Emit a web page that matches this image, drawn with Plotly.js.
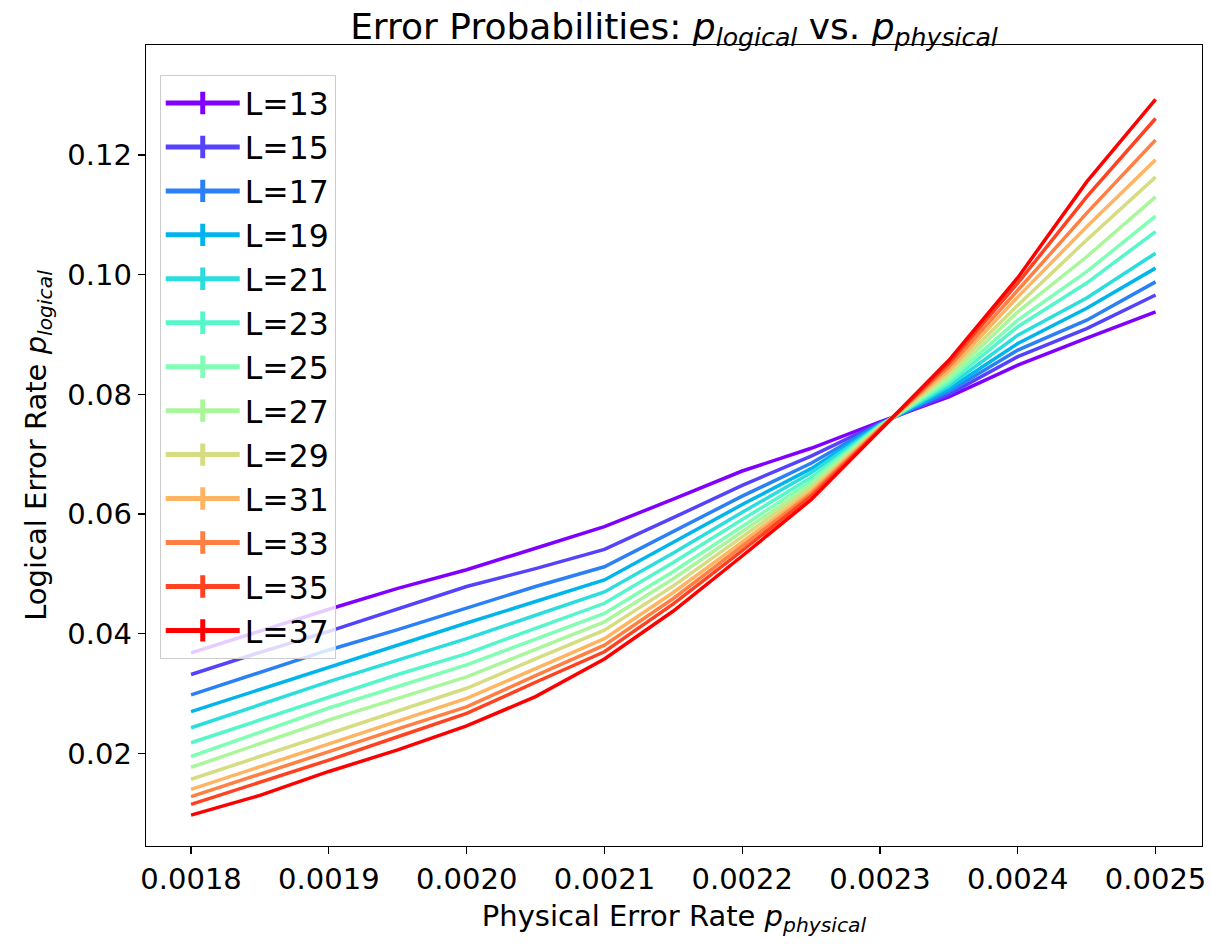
<!DOCTYPE html>
<html>
<head>
<meta charset="utf-8">
<script src="https://cdn.plot.ly/plotly-3.0.1.min.js"></script>
<style>html,body{margin:0;padding:0;background:#fff;}#chart{width:1212px;height:945px;}</style>
</head>
<body>
<div id="chart"></div>
<script>
// Physical error rate values (x axis)
const pPhysical = [0.0018, 0.00185, 0.0019, 0.00195, 0.0020, 0.00205, 0.0021, 0.00215, 0.0022, 0.00225, 0.0023, 0.00235, 0.0024, 0.00245, 0.0025];

// Series labels
const sizes = ["L=13", "L=15", "L=17", "L=19", "L=21", "L=23", "L=25", "L=27", "L=29", "L=31", "L=33", "L=35", "L=37"];

// Logical error rate per system size
const L13 = [0.0368, 0.0405, 0.0441, 0.0476, 0.0507, 0.0543, 0.0579, 0.0625, 0.0672, 0.0710, 0.0754, 0.0796, 0.0849, 0.0894, 0.0938];
const L15 = [0.0332, 0.0369, 0.0404, 0.0442, 0.0479, 0.0509, 0.0541, 0.0594, 0.0648, 0.0697, 0.0752, 0.0800, 0.0863, 0.0910, 0.0966];
const L17 = [0.0298, 0.0336, 0.0373, 0.0407, 0.0443, 0.0479, 0.0512, 0.0571, 0.0630, 0.0685, 0.0751, 0.0805, 0.0874, 0.0924, 0.0988];
const L19 = [0.0270, 0.0307, 0.0345, 0.0382, 0.0418, 0.0454, 0.0490, 0.0553, 0.0616, 0.0676, 0.0750, 0.0809, 0.0885, 0.0944, 0.1011];
const L21 = [0.0243, 0.0282, 0.0320, 0.0356, 0.0392, 0.0431, 0.0470, 0.0535, 0.0603, 0.0669, 0.0749, 0.0814, 0.0899, 0.0961, 0.1036];
const L23 = [0.0218, 0.0256, 0.0295, 0.0332, 0.0367, 0.0409, 0.0451, 0.0519, 0.0591, 0.0661, 0.0748, 0.0819, 0.0913, 0.0986, 0.1072];
const L25 = [0.0195, 0.0235, 0.0276, 0.0312, 0.0348, 0.0391, 0.0434, 0.0504, 0.0580, 0.0655, 0.0747, 0.0824, 0.0924, 0.1005, 0.1098];
const L27 = [0.0177, 0.0216, 0.0256, 0.0292, 0.0328, 0.0374, 0.0420, 0.0492, 0.0571, 0.0649, 0.0746, 0.0829, 0.0938, 0.1030, 0.1130];
const L29 = [0.0157, 0.0195, 0.0234, 0.0272, 0.0309, 0.0358, 0.0406, 0.0480, 0.0562, 0.0644, 0.0745, 0.0835, 0.0949, 0.1058, 0.1163];
const L31 = [0.0140, 0.0178, 0.0217, 0.0255, 0.0292, 0.0342, 0.0392, 0.0469, 0.0553, 0.0638, 0.0744, 0.0840, 0.0963, 0.1080, 0.1192];
const L33 = [0.0128, 0.0165, 0.0203, 0.0241, 0.0278, 0.0330, 0.0381, 0.0459, 0.0546, 0.0634, 0.0743, 0.0846, 0.0974, 0.1103, 0.1225];
const L35 = [0.0115, 0.0152, 0.0189, 0.0228, 0.0267, 0.0319, 0.0370, 0.0450, 0.0539, 0.0630, 0.0742, 0.0852, 0.0986, 0.1130, 0.1261];
const L37 = [0.0097, 0.0130, 0.0170, 0.0206, 0.0246, 0.0295, 0.0358, 0.0438, 0.0530, 0.0624, 0.0740, 0.0857, 0.0995, 0.1155, 0.1293];

const seriesValues = [L13, L15, L17, L19, L21, L23, L25, L27, L29, L31, L33, L35, L37];

// Tick labels
const xTickVals = [0.0018, 0.0019, 0.0020, 0.0021, 0.0022, 0.0023, 0.0024, 0.0025];
const xTickText = ["0.0018", "0.0019", "0.0020", "0.0021", "0.0022", "0.0023", "0.0024", "0.0025"];
const yTickVals = [0.02, 0.04, 0.06, 0.08, 0.10, 0.12];
const yTickText = ["0.02", "0.04", "0.06", "0.08", "0.10", "0.12"];

// matplotlib "rainbow" colours for 13 evenly spaced levels
const colors = ["#8000ff", "#5542fd", "#2b80f6", "#00b4ec", "#2bdddd", "#55f6ca", "#80ffb4", "#aaf69b", "#d5dd80", "#ffb462", "#ff8042", "#ff4221", "#ff0000"];

const FONT = "DejaVu Sans, Liberation Sans, sans-serif";
const traces = [];
seriesValues.forEach((vals, i) => {
  traces.push({
    type: "scatter", mode: "lines",
    x: pPhysical, y: vals,
    name: sizes[i],
    line: {color: colors[i], width: 3.5},
    showlegend: false,
    hoverinfo: "x+y+name"
  });
});
// legend-only entries with a "+" look
seriesValues.forEach((vals, i) => {
  traces.push({
    type: "scatter", mode: "lines+markers",
    x: [null], y: [null],
    name: sizes[i],
    legendgroup: "g" + i,
    line: {color: colors[i], width: 5},
    marker: {symbol: "line-ns-open", size: 16, color: colors[i], line: {color: colors[i], width: 5}},
    showlegend: true
  });
});

const layout = {
  width: 1212, height: 945,
  margin: {l: 146, r: 10, t: 45, b: 99},
  paper_bgcolor: "#fff", plot_bgcolor: "#fff",
  font: {family: FONT, size: 29, color: "#000"},
  title: {
    text: "Error Probabilities: <i>p</i><sub><i>logical</i></sub> vs. <i>p</i><sub><i>physical</i></sub>",
    font: {family: FONT, size: 36, color: "#000"},
    x: 0.5, xref: "paper", y: 1 - 26/945, yref: "container", yanchor: "middle"
  },
  xaxis: {
    range: [0.0017673, 0.0025337],
    tickvals: xTickVals, ticktext: xTickText,
    ticks: "outside", ticklen: 7, tickwidth: 1.3, tickcolor: "#000",
    showline: true, linecolor: "#000", linewidth: 1.3, mirror: true,
    showgrid: false, zeroline: false,
    tickfont: {family: FONT, size: 29, color: "#000"},
    title: {text: "Physical Error Rate <i>p</i><sub><i>physical</i></sub>", font: {family: FONT, size: 29, color: "#000"}, standoff: 10}
  },
  yaxis: {
    range: [0.004545, 0.13838],
    tickvals: yTickVals, ticktext: yTickText,
    ticks: "outside", ticklen: 7, tickwidth: 1.3, tickcolor: "#000",
    showline: true, linecolor: "#000", linewidth: 1.3, mirror: true,
    showgrid: false, zeroline: false,
    tickfont: {family: FONT, size: 29, color: "#000"},
    title: {text: "Logical Error Rate <i>p</i><sub><i>logical</i></sub>", font: {family: FONT, size: 29, color: "#000"}, standoff: 12}
  },
  legend: {
    x: 0.013, y: 0.9625, xanchor: "left", yanchor: "top",
    bgcolor: "rgba(255,255,255,0.8)", bordercolor: "#cccccc", borderwidth: 1,
    font: {family: FONT, size: 31.5, color: "#000"},
    tracegroupgap: 0, itemwidth: 74
  },
  showlegend: true
};

Plotly.newPlot("chart", traces, layout, {displayModeBar: false, staticPlot: true});
</script>
</body>
</html>
